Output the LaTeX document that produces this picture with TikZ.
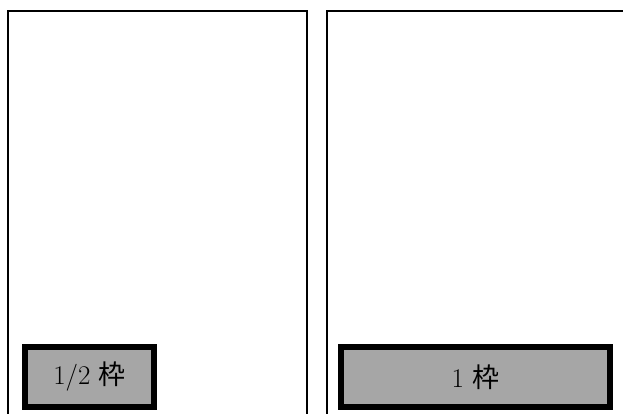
\documentclass[tikz,border=0pt]{standalone}
\usepackage{fontspec}
\newfontfamily\jpfont{Noto Sans CJK JP}
\tikzset{
  panel/.style={draw=black,line width=2pt},
  slotbox/.style={draw=black,line width=6pt,fill=gray!70,minimum height=60pt,
    inner sep=0pt,font=\fontsize{27}{30}\selectfont}
}
\begin{document}
\begin{tikzpicture}[x=1pt,y=-1pt]
\useasboundingbox (0,0) rectangle (623,414);
\clip (0,0) rectangle (623,414);
\draw[panel] (8,11.5) rectangle (306.5,440);
\draw[panel] (327,11.5) rectangle (660,440);

\node[slotbox,minimum width=129pt] (half) at (89.5,377) {1/2 {\jpfont 枠}};
\node[slotbox,minimum width=269pt] (one) at (475.5,377) {1 {\jpfont 枠}};
\end{tikzpicture}
\end{document}
